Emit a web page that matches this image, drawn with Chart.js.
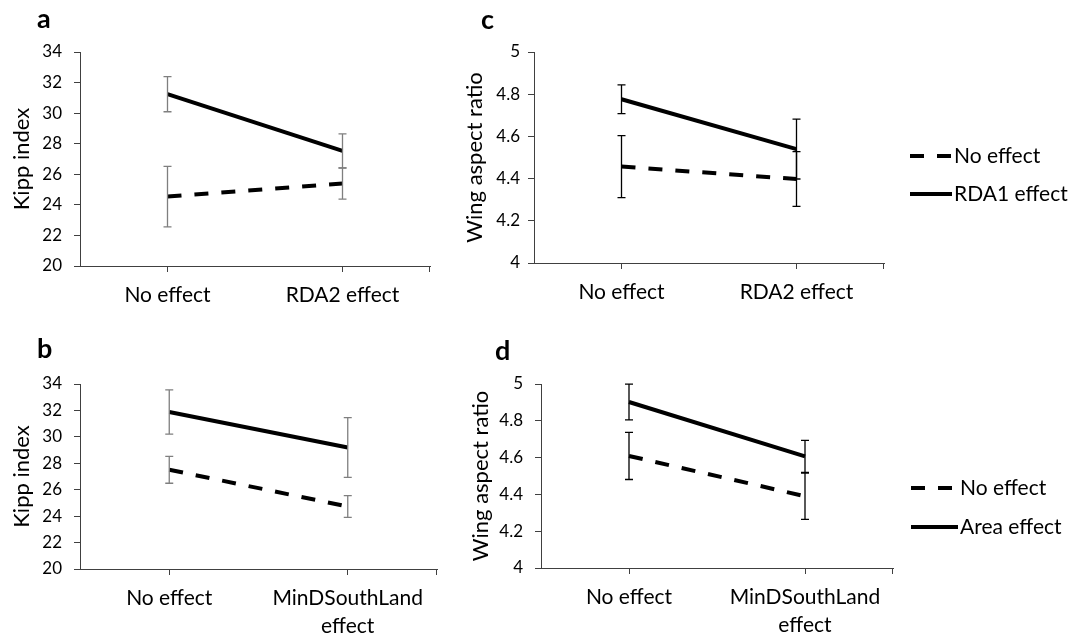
<!DOCTYPE html>
<html>
<head>
<meta charset="utf-8">
<script src="https://cdn.jsdelivr.net/npm/chart.js@4/dist/chart.umd.min.js"></script>
<style>
  body { margin: 0; background: #fff; }
  #fig { position: relative; width: 1081px; height: 640px; overflow: hidden; }
  #fig canvas { position: absolute; }
</style>
</head>
<body>
<div id="fig">
  <canvas id="panel-a" width="450" height="320" style="left:0;top:0"></canvas>
  <canvas id="panel-b" width="450" height="320" style="left:0;top:320px"></canvas>
  <canvas id="panel-c" width="641" height="320" style="left:440px;top:0"></canvas>
  <canvas id="panel-d" width="641" height="320" style="left:440px;top:320px"></canvas>
</div>
<script>
// categories
const catsTop = ['No effect', 'RDA2 effect'];
const catsBottom = ['No effect', ['MinDSouthLand', 'effect']];

// y axis ranges: [min, max, step]
const kippAxis = [20, 34, 2];
const wingAxis = [4, 5, 0.2];

// a: Kipp index vs RDA2
const aNoEffect = [24.54, 25.39];
const aNoEffectErr = [1.98, 1.02];
const aRda1 = [31.24, 27.53];
const aRda1Err = [1.15, 1.11];

// b: Kipp index vs MinDSouthLand
const bNoEffect = [27.51, 24.73];
const bNoEffectErr = [1.02, 0.83];
const bArea = [31.88, 29.2];
const bAreaErr = [1.67, 2.26];

// c: wing aspect ratio vs RDA2
const cNoEffect = [4.457, 4.398];
const cNoEffectErr = [0.147, 0.13];
const cRda1 = [4.776, 4.54];
const cRda1Err = [0.068, 0.142];

// d: wing aspect ratio vs MinDSouthLand
const dNoEffect = [4.609, 4.39];
const dNoEffectErr = [0.128, 0.126];
const dArea = [4.902, 4.607];
const dAreaErr = [0.097, 0.087];

const FONT = 'Lato, "Open Sans", sans-serif';
const AXIS_COLOR = '#404040';

// error bars drawn from each dataset's "errors" array
const errorBars = {
    id: 'errorBars',
    afterDatasetsDraw(chart, args, opts) {
        const ctx = chart.ctx;
        const yScale = chart.scales.y;
        chart.data.datasets.forEach((ds, i) => {
            const meta = chart.getDatasetMeta(i);
            (ds.errors || []).forEach((e, j) => {
                const pt = meta.data[j];
                const top = yScale.getPixelForValue(ds.data[j] + e);
                const bot = yScale.getPixelForValue(ds.data[j] - e);
                ctx.save();
                ctx.strokeStyle = opts.color;
                ctx.lineWidth = 1.3;
                ctx.beginPath();
                ctx.moveTo(pt.x, top);
                ctx.lineTo(pt.x, bot);
                ctx.moveTo(pt.x - 4, top);
                ctx.lineTo(pt.x + 4, top);
                ctx.moveTo(pt.x - 4, bot);
                ctx.lineTo(pt.x + 4, bot);
                ctx.stroke();
                ctx.restore();
            });
        });
    }
};

// panel letter + small tick at the right end of the x axis
const panelDecor = {
    id: 'panelDecor',
    afterDraw(chart, args, opts) {
        const ctx = chart.ctx;
        const area = chart.chartArea;
        ctx.save();
        ctx.strokeStyle = AXIS_COLOR;
        ctx.lineWidth = 1;
        ctx.beginPath();
        ctx.moveTo(area.right - 0.5, area.bottom);
        ctx.lineTo(area.right - 0.5, area.bottom + 6);
        ctx.stroke();
        ctx.fillStyle = '#000';
        ctx.font = 'bold 27px ' + FONT;
        ctx.textBaseline = 'middle';
        ctx.textAlign = 'left';
        ctx.fillText(opts.letter, opts.x, opts.y);
        ctx.restore();
    }
};

// legend at the right of panels c and d
const sideLegend = {
    id: 'sideLegend',
    afterDraw(chart, args, opts) {
        if (!opts.show) return;
        const ctx = chart.ctx;
        ctx.save();
        chart.data.datasets.forEach((ds, i) => {
            const y = opts.y + i * opts.rowGap;
            ctx.strokeStyle = ds.borderColor;
            ctx.lineWidth = ds.borderWidth;
            ctx.setLineDash(ds.borderDash || []);
            ctx.beginPath();
            ctx.moveTo(opts.x, y);
            ctx.lineTo(opts.x + opts.lineLen, y);
            ctx.stroke();
            ctx.setLineDash([]);
            ctx.fillStyle = '#000';
            ctx.font = '21px ' + FONT;
            ctx.textBaseline = 'middle';
            ctx.fillText(ds.label, opts.x + opts.lineLen + 2, y);
        });
        ctx.restore();
    }
};

function makePanel(id, cfg) {
    return new Chart(document.getElementById(id), {
        type: 'line',
        data: {
            labels: cfg.labels,
            datasets: [
                {
                    label: 'No effect',
                    data: cfg.noEffect,
                    errors: cfg.noEffectErr,
                    borderColor: '#000',
                    borderWidth: 4,
                    borderDash: [14, 13],
                    pointRadius: 0
                },
                {
                    label: cfg.effectLabel,
                    data: cfg.effect,
                    errors: cfg.effectErr,
                    borderColor: '#000',
                    borderWidth: 4,
                    pointRadius: 0
                }
            ]
        },
        options: {
            responsive: false,
            animation: false,
            layout: { padding: cfg.padding },
            plugins: {
                legend: { display: false },
                tooltip: { enabled: false },
                errorBars: { color: cfg.errColor },
                panelDecor: cfg.letter,
                sideLegend: cfg.legend || { show: false }
            },
            scales: {
                x: {
                    type: 'category',
                    offset: true,
                    grid: { drawOnChartArea: false, drawTicks: true, tickLength: 6, color: AXIS_COLOR },
                    border: { display: true, color: AXIS_COLOR, width: 1 },
                    ticks: { color: '#000', padding: 10, maxRotation: 0, autoSkip: false,
                             font: { family: FONT, size: 21, lineHeight: 1.3 } },
                    afterFit: (scale) => { scale.height = cfg.xHeight; }
                },
                y: {
                    min: cfg.axis[0],
                    max: cfg.axis[1],
                    grid: { drawOnChartArea: false, drawTicks: true, tickLength: 6, color: AXIS_COLOR },
                    border: { display: true, color: AXIS_COLOR, width: 1 },
                    ticks: { stepSize: cfg.axis[2], color: '#000', padding: cfg.tickPad,
                             font: { family: FONT, size: 17 },
                             callback: (v) => String(Number(v.toFixed(1))) },
                    title: { display: true, text: cfg.title, color: '#000',
                             padding: { top: cfg.titlePad, bottom: 0 },
                             font: { family: FONT, size: 22 } },
                    afterFit: (scale) => { scale.width = cfg.yWidth; }
                }
            }
        },
        plugins: [errorBars, panelDecor, sideLegend]
    });
}

makePanel('panel-a', {
    labels: catsTop, axis: kippAxis, title: 'Kipp index',
    noEffect: aNoEffect, noEffectErr: aNoEffectErr,
    effect: aRda1, effectErr: aRda1Err, effectLabel: 'RDA1 effect',
    errColor: '#7f7f7f',
    padding: { left: 0, top: 52, right: 20, bottom: 0 },
    yWidth: 80, xHeight: 54, titlePad: 9, tickPad: 12,
    letter: { letter: 'a', x: 37, y: 19 }
});

makePanel('panel-b', {
    labels: catsBottom, axis: kippAxis, title: 'Kipp index',
    noEffect: bNoEffect, noEffectErr: bNoEffectErr,
    effect: bArea, effectErr: bAreaErr, effectLabel: 'Area effect',
    errColor: '#7f7f7f',
    padding: { left: 0, top: 64, right: 13, bottom: 0 },
    yWidth: 80, xHeight: 71, titlePad: 9, tickPad: 12,
    letter: { letter: 'b', x: 37, y: 29 }
});

makePanel('panel-c', {
    labels: catsTop, axis: wingAxis, title: 'Wing aspect ratio',
    noEffect: cNoEffect, noEffectErr: cNoEffectErr,
    effect: cRda1, effectErr: cRda1Err, effectLabel: 'RDA1 effect',
    errColor: '#000',
    padding: { left: 0, top: 52, right: 197, bottom: 0 },
    yWidth: 94, xHeight: 57, titlePad: 22, tickPad: 8,
    letter: { letter: 'c', x: 41, y: 20 },
    legend: { show: true, x: 470, y: 156, rowGap: 38, lineLen: 42 }
});

makePanel('panel-d', {
    labels: catsBottom, axis: wingAxis, title: 'Wing aspect ratio',
    noEffect: dNoEffect, noEffectErr: dNoEffectErr,
    effect: dArea, effectErr: dAreaErr, effectLabel: 'Area effect',
    errColor: '#000',
    padding: { left: 0, top: 64, right: 188, bottom: 0 },
    yWidth: 101, xHeight: 72, titlePad: 28, tickPad: 12,
    letter: { letter: 'd', x: 55, y: 31 },
    legend: { show: true, x: 471, y: 168, rowGap: 39, lineLen: 47 }
});
</script>
</body>
</html>
